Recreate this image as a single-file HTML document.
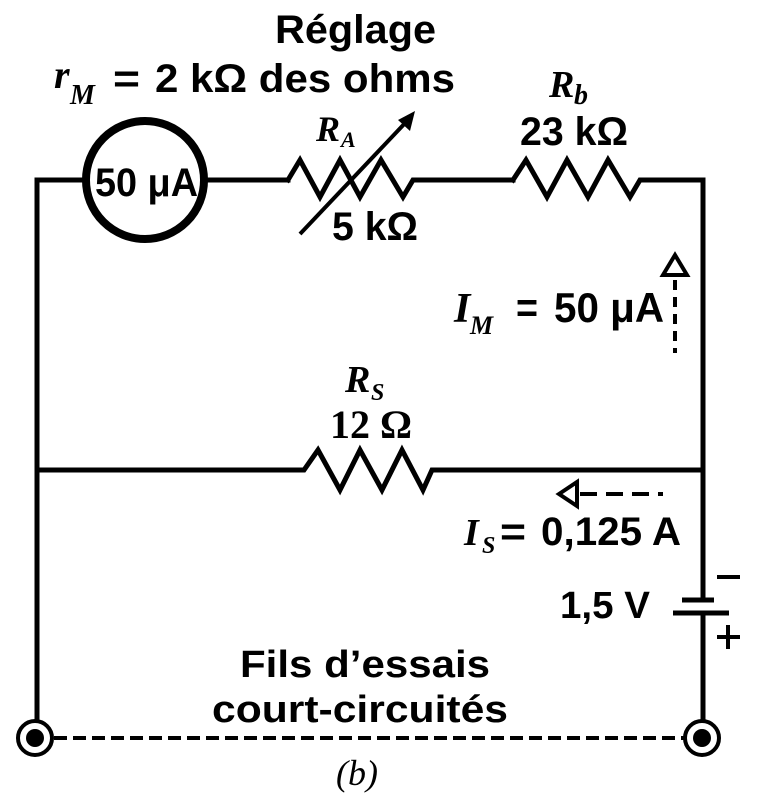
<!DOCTYPE html>
<html><head><meta charset="utf-8"><style>
html,body{margin:0;padding:0;background:#fff;}
svg{display:block;}
.s{font-family:"Liberation Sans",sans-serif;font-weight:bold;fill:#000;}
.i{font-family:"Liberation Serif",serif;font-style:italic;font-weight:bold;fill:#000;}
.n{font-family:"Liberation Serif",serif;font-weight:bold;fill:#000;}
</style></head><body>
<svg width="760" height="794" viewBox="0 0 760 794" xmlns="http://www.w3.org/2000/svg">
<g fill="none" stroke="#000" stroke-width="5" stroke-linejoin="miter" stroke-linecap="square">
  <polyline points="37,738 37,180 86,180"/>
  <line x1="206" y1="180" x2="288" y2="180"/>
  <polyline points="288,180 300,160 320,197 340,160 360,197 381,160 403,197 413,180 513,180"/>
  <polyline points="513,180 526,160 547,197 567,160 588,197 608,160 630,197 640,180 703,180 703,738"/>
  <polyline points="37,470 304,470 318,450 340,490 360,450 382,490 402,450 423,490 432,470 703,470"/>
</g>
<rect x="695" y="602" width="16" height="9" fill="#fff"/>
<line x1="682" y1="600" x2="714" y2="600" stroke="#000" stroke-width="5"/>
<line x1="673" y1="613" x2="729" y2="613" stroke="#000" stroke-width="5"/>
<line x1="717" y1="577" x2="740" y2="577" stroke="#000" stroke-width="4"/>
<line x1="717" y1="637" x2="740" y2="637" stroke="#000" stroke-width="4"/>
<line x1="728" y1="625" x2="728" y2="649" stroke="#000" stroke-width="4"/>

<circle cx="145" cy="180" r="59" fill="#fff" stroke="#000" stroke-width="8"/>
<text class="s" x="95" y="196" font-size="40" textLength="103" lengthAdjust="spacingAndGlyphs">50 μA</text>

<line x1="300" y1="234" x2="408" y2="120" stroke="#000" stroke-width="4"/>
<polygon points="415,111 398,120 410,131" fill="#000"/>

<polygon points="675,255 663,275 687,275" fill="#fff" stroke="#000" stroke-width="4"/>
<line x1="675" y1="280" x2="675" y2="353" stroke="#000" stroke-width="4" stroke-dasharray="10,7"/>
<polygon points="559,494 577,482 577,506" fill="#fff" stroke="#000" stroke-width="4"/>
<line x1="580" y1="494" x2="663" y2="494" stroke="#000" stroke-width="4" stroke-dasharray="17,9"/>

<line x1="54" y1="738" x2="685" y2="738" stroke="#000" stroke-width="4" stroke-dasharray="13,6"/>
<circle cx="35" cy="738" r="17" fill="#fff" stroke="#000" stroke-width="4"/>
<circle cx="35" cy="738" r="9" fill="#000"/>
<circle cx="702" cy="738" r="17" fill="#fff" stroke="#000" stroke-width="4"/>
<circle cx="702" cy="738" r="9" fill="#000"/>

<text class="s" x="275" y="43" font-size="40" textLength="161" lengthAdjust="spacingAndGlyphs">Réglage</text>
<text class="i" x="54" y="88" font-size="40">r</text>
<text class="i" x="70" y="104" font-size="28">M</text>
<text class="s" x="113" y="92" font-size="40" textLength="27" lengthAdjust="spacingAndGlyphs">=</text>
<text class="s" x="155" y="92" font-size="40" textLength="300" lengthAdjust="spacingAndGlyphs">2 kΩ des ohms</text>

<text class="i" x="316" y="141" font-size="36">R</text>
<text class="i" x="341" y="147" font-size="22">A</text>
<text class="s" x="332" y="240" font-size="40" textLength="86" lengthAdjust="spacingAndGlyphs">5 kΩ</text>

<text class="i" x="549" y="97" font-size="38">R</text>
<text class="i" x="574" y="104" font-size="28">b</text>
<text class="s" x="520" y="145" font-size="40" textLength="108" lengthAdjust="spacingAndGlyphs">23 kΩ</text>

<text class="i" x="454" y="322" font-size="42">I</text>
<text class="i" x="470" y="334" font-size="26">M</text>
<text class="s" x="516" y="322" font-size="42" textLength="22" lengthAdjust="spacingAndGlyphs">=</text>
<text class="s" x="554" y="322" font-size="42" textLength="110" lengthAdjust="spacingAndGlyphs">50 μA</text>

<text class="i" x="345" y="392" font-size="38">R</text>
<text class="i" x="371" y="400" font-size="24">S</text>
<text class="n" x="330" y="438" font-size="40" textLength="82" lengthAdjust="spacingAndGlyphs">12 Ω</text>

<text class="i" x="464" y="545" font-size="38">I</text>
<text class="i" x="482" y="553" font-size="24">S</text>
<text class="s" x="500" y="545" font-size="40" textLength="26" lengthAdjust="spacingAndGlyphs">=</text>
<text class="s" x="541" y="545" font-size="40" textLength="140" lengthAdjust="spacingAndGlyphs">0,125 A</text>

<text class="s" x="560" y="618" font-size="38" textLength="90" lengthAdjust="spacingAndGlyphs">1,5 V</text>

<text class="s" x="240" y="677" font-size="38" textLength="250" lengthAdjust="spacingAndGlyphs">Fils d’essais</text>
<text class="s" x="212" y="722" font-size="38" textLength="296" lengthAdjust="spacingAndGlyphs">court-circuités</text>

<text font-family="Liberation Serif, serif" font-style="italic" font-size="36" x="336" y="785" fill="#000">(b)</text>
</svg>
</body></html>
